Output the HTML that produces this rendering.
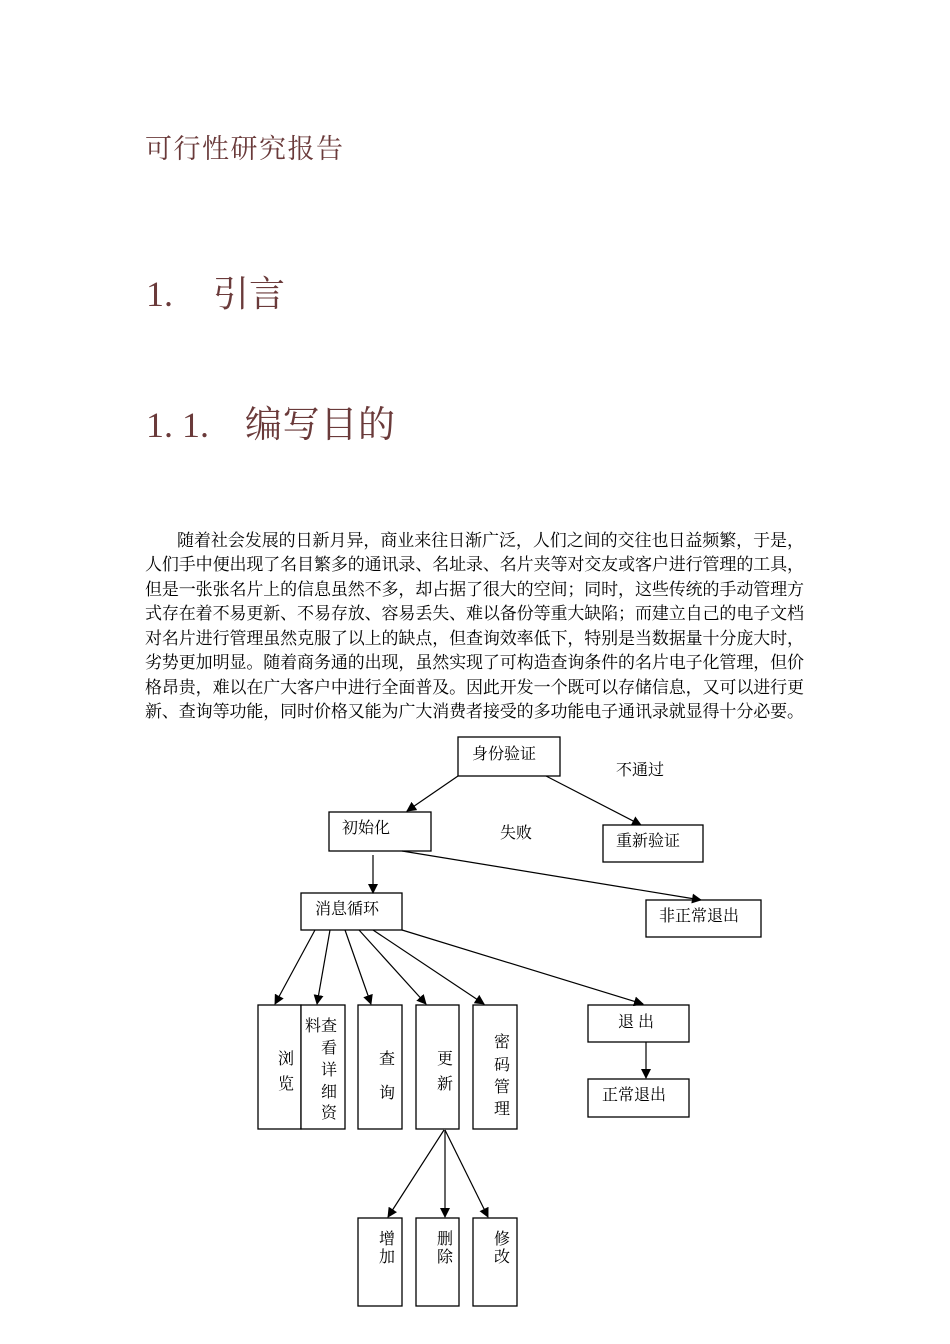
<!DOCTYPE html>
<html><head><meta charset="utf-8"><style>
html,body{margin:0;padding:0;background:#fff;}
svg{display:block;}
.h{fill:#6a3a3a;font-family:"Liberation Serif","Noto Serif CJK SC",serif;}
.p{fill:#000;font-family:"Liberation Serif","Noto Serif CJK SC",serif;font-size:17px;}
.d{fill:#000;font-family:"Liberation Serif","Noto Serif CJK SC",serif;font-size:16px;}
rect{fill:#fff;stroke:#000;stroke-width:1.3;}
line{stroke:#000;stroke-width:1.2;}
</style></head><body>
<svg width="950" height="1344" viewBox="0 0 950 1344" xmlns="http://www.w3.org/2000/svg">
<defs><marker id="a" markerWidth="10" markerHeight="10" refX="9" refY="5" orient="auto" markerUnits="userSpaceOnUse"><path d="M0,0 L10,5 L0,10 z" fill="#000"/></marker></defs>
<text class="h" x="145" y="158" font-size="27" textLength="198">可行性研究报告</text>
<text class="h" x="146" y="306" font-size="36">1.</text>
<text class="h" x="213" y="306" font-size="36">引言</text>
<text class="h" x="146" y="437" font-size="36">1. 1.</text>
<text class="h" x="245" y="437" font-size="37" textLength="150">编写目的</text>
<g class="p">
<text x="177" y="546" textLength="627">随着社会发展的日新月异，商业来往日渐广泛，人们之间的交往也日益频繁，于是，</text>
<text x="145" y="570" textLength="659">人们手中便出现了名目繁多的通讯录、名址录、名片夹等对交友或客户进行管理的工具，</text>
<text x="145" y="595" textLength="659">但是一张张名片上的信息虽然不多，却占据了很大的空间；同时，这些传统的手动管理方</text>
<text x="145" y="619" textLength="659">式存在着不易更新、不易存放、容易丢失、难以备份等重大缺陷；而建立自己的电子文档</text>
<text x="145" y="644" textLength="659">对名片进行管理虽然克服了以上的缺点，但查询效率低下，特别是当数据量十分庞大时，</text>
<text x="145" y="668" textLength="659">劣势更加明显。随着商务通的出现，虽然实现了可构造查询条件的名片电子化管理，但价</text>
<text x="145" y="693" textLength="659">格昂贵，难以在广大客户中进行全面普及。因此开发一个既可以存储信息，又可以进行更</text>
<text x="145" y="717" textLength="659">新、查询等功能，同时价格又能为广大消费者接受的多功能电子通讯录就显得十分必要。</text>
</g>
<rect x="458" y="737" width="102" height="39"/>
<rect x="329" y="812" width="102" height="39"/>
<rect x="603" y="825" width="100" height="37"/>
<rect x="646" y="900" width="115" height="37"/>
<rect x="301" y="893" width="101" height="37"/>
<rect x="258" y="1005" width="43" height="124"/>
<rect x="301" y="1005" width="44" height="124"/>
<rect x="358" y="1005" width="44" height="124"/>
<rect x="416" y="1005" width="43" height="124"/>
<rect x="473" y="1005" width="44" height="124"/>
<rect x="588" y="1005" width="101" height="37"/>
<rect x="588" y="1079" width="101" height="38"/>
<rect x="358" y="1218" width="44" height="88"/>
<rect x="416" y="1218" width="43" height="88"/>
<rect x="473" y="1218" width="44" height="88"/>
<g marker-end="url(#a)">
<line x1="458" y1="776" x2="407" y2="811"/>
<line x1="546" y1="776" x2="641" y2="825"/>
<line x1="402" y1="851" x2="701" y2="900"/>
<line x1="373" y1="855" x2="373" y2="893"/>
<line x1="315" y1="930" x2="275" y2="1004"/>
<line x1="330" y1="930" x2="317" y2="1004"/>
<line x1="345" y1="930" x2="371" y2="1004"/>
<line x1="359" y1="930" x2="426" y2="1004"/>
<line x1="373" y1="930" x2="484" y2="1004"/>
<line x1="402" y1="930" x2="643" y2="1004"/>
<line x1="646" y1="1042" x2="646" y2="1078"/>
<line x1="444" y1="1130" x2="388" y2="1217"/>
<line x1="445" y1="1130" x2="445" y2="1217"/>
<line x1="445" y1="1130" x2="488" y2="1217"/>
</g>
<g class="d">
<text x="472" y="759">身份验证</text>
<text x="616" y="775">不通过</text>
<text x="342" y="833">初始化</text>
<text x="500" y="838">失败</text>
<text x="616" y="846">重新验证</text>
<text x="659" y="921">非正常退出</text>
<text x="315" y="914">消息循环</text>
<text x="618" y="1027">退 出</text>
<text x="602" y="1100">正常退出</text>
<text x="278" y="1064">浏</text><text x="278" y="1089">览</text>
<text x="305" y="1031">料</text>
<text x="321" y="1031">查</text><text x="321" y="1053">看</text><text x="321" y="1075">详</text><text x="321" y="1097">细</text><text x="321" y="1118">资</text>
<text x="379" y="1064">查</text><text x="379" y="1098">询</text>
<text x="437" y="1064">更</text><text x="437" y="1089">新</text>
<text x="494" y="1047">密</text><text x="494" y="1070">码</text><text x="494" y="1092">管</text><text x="494" y="1114">理</text>
<text x="379" y="1244">增</text><text x="379" y="1262">加</text>
<text x="437" y="1244">删</text><text x="437" y="1262">除</text>
<text x="494" y="1244">修</text><text x="494" y="1262">改</text>
</g>
</svg>
</body></html>
